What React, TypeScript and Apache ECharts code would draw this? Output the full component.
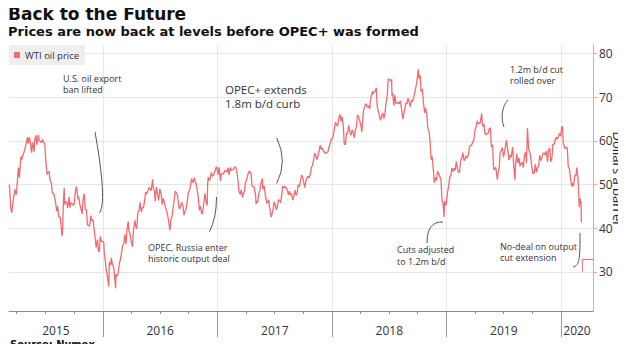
import React, { useEffect, useRef } from "react";
import * as echarts from "echarts";

// WTI front-month price, dollars a barrel
const wti2015: [string, number][] = [
  ["03-09", 50.0], ["03-11", 48.2], ["03-13", 44.8], ["03-17", 43.5], ["03-20", 45.7], ["03-24", 47.5], ["03-27", 48.9], ["03-31", 47.6],
  ["04-02", 49.1], ["04-07", 53.9], ["04-10", 51.6], ["04-15", 56.4], ["04-17", 55.7], ["04-21", 56.6], ["04-24", 57.2], ["04-29", 58.6],
  ["05-01", 59.2], ["05-06", 60.9], ["05-08", 59.4], ["05-12", 60.8], ["05-15", 59.7], ["05-19", 57.3], ["05-22", 59.7], ["05-27", 57.5],
  ["05-29", 60.3], ["06-02", 61.3], ["06-05", 59.1], ["06-10", 61.4], ["06-12", 60.0], ["06-17", 59.9], ["06-19", 59.6], ["06-24", 60.3],
  ["06-26", 59.6], ["06-30", 59.5], ["07-02", 56.9], ["07-07", 52.3], ["07-10", 52.7], ["07-14", 53.0], ["07-17", 50.9], ["07-21", 50.4],
  ["07-24", 48.1], ["07-28", 48.0], ["07-31", 47.1], ["08-04", 45.7], ["08-07", 43.9], ["08-10", 45.0], ["08-14", 42.5], ["08-18", 42.6],
  ["08-21", 40.5], ["08-24", 38.2], ["08-26", 39.3], ["08-28", 45.2], ["08-31", 49.2], ["09-01", 45.4], ["09-04", 46.1], ["09-08", 45.9],
  ["09-11", 44.6], ["09-16", 47.2], ["09-18", 44.7], ["09-22", 45.8], ["09-25", 45.7], ["09-29", 45.2], ["10-02", 45.5], ["10-06", 48.5],
  ["10-09", 49.6], ["10-14", 46.6], ["10-16", 47.3], ["10-20", 45.3], ["10-23", 44.6], ["10-27", 43.2], ["10-30", 46.6], ["11-03", 47.9],
  ["11-06", 44.3], ["11-10", 44.2], ["11-13", 40.7], ["11-17", 40.7], ["11-20", 40.4], ["11-24", 42.9], ["11-27", 41.7], ["12-01", 41.9],
  ["12-04", 40.0], ["12-08", 37.5], ["12-11", 35.6], ["12-15", 37.4], ["12-18", 34.7], ["12-21", 34.7], ["12-24", 38.1], ["12-28", 36.8],
  ["12-31", 37.0],
];
const wti2016: [string, number][] = [
  ["01-04", 36.8], ["01-06", 34.0], ["01-08", 33.2], ["01-12", 30.4], ["01-15", 29.4], ["01-20", 26.6], ["01-22", 32.2], ["01-26", 31.5],
  ["01-28", 33.2], ["02-01", 31.6], ["02-05", 30.9], ["02-09", 27.9], ["02-11", 26.2], ["02-12", 29.4], ["02-16", 29.0], ["02-19", 29.6],
  ["02-23", 31.9], ["02-26", 32.8], ["03-01", 34.4], ["03-04", 35.9], ["03-08", 36.5], ["03-11", 38.5], ["03-15", 36.3], ["03-18", 39.4],
  ["03-22", 41.5], ["03-24", 39.5], ["03-29", 38.3], ["04-01", 36.8], ["04-05", 35.7], ["04-08", 39.7], ["04-13", 41.8], ["04-15", 40.4],
  ["04-18", 39.8], ["04-22", 43.7], ["04-26", 44.0], ["04-29", 45.9], ["05-03", 43.7], ["05-06", 44.7], ["05-10", 44.7], ["05-13", 46.2],
  ["05-17", 48.3], ["05-20", 47.8], ["05-24", 48.6], ["05-27", 49.3], ["05-31", 49.1], ["06-03", 48.6], ["06-08", 51.2], ["06-10", 49.1],
  ["06-14", 48.5], ["06-16", 46.2], ["06-20", 49.4], ["06-24", 47.6], ["06-27", 46.3], ["07-01", 49.0], ["07-06", 47.4], ["07-08", 45.4],
  ["07-12", 46.8], ["07-15", 46.0], ["07-19", 44.7], ["07-22", 44.2], ["07-26", 42.9], ["07-29", 41.6], ["08-02", 39.5], ["08-05", 41.8],
  ["08-09", 42.8], ["08-12", 44.5], ["08-16", 46.6], ["08-19", 48.5], ["08-23", 48.1], ["08-26", 47.6], ["08-31", 44.7], ["09-02", 44.4],
  ["09-07", 45.5], ["09-09", 45.9], ["09-13", 44.9], ["09-16", 43.0], ["09-20", 43.9], ["09-23", 44.5], ["09-26", 45.9], ["09-28", 47.1],
  ["09-30", 48.2], ["10-04", 48.7], ["10-07", 49.8], ["10-10", 51.4], ["10-14", 50.4], ["10-19", 51.6], ["10-21", 50.9], ["10-25", 50.0],
  ["10-28", 48.7], ["11-01", 46.7], ["11-04", 44.1], ["11-08", 45.0], ["11-11", 43.4], ["11-14", 43.3], ["11-18", 45.7], ["11-22", 48.0],
  ["11-25", 46.1], ["11-29", 45.2], ["11-30", 49.4], ["12-02", 51.7], ["12-06", 50.9], ["12-09", 51.5], ["12-12", 52.8], ["12-16", 51.9],
  ["12-20", 52.2], ["12-23", 53.0], ["12-28", 54.1], ["12-30", 53.7],
];
const wti2017: [string, number][] = [
  ["01-03", 52.3], ["01-06", 54.0], ["01-10", 50.8], ["01-13", 52.4], ["01-17", 52.5], ["01-20", 52.4], ["01-24", 53.2], ["01-27", 53.2],
  ["01-31", 52.8], ["02-03", 53.8], ["02-07", 52.2], ["02-10", 53.9], ["02-14", 53.2], ["02-17", 53.4], ["02-22", 53.6], ["02-24", 54.0],
  ["02-28", 54.0], ["03-03", 53.3], ["03-08", 50.3], ["03-10", 48.5], ["03-14", 47.7], ["03-17", 48.8], ["03-22", 47.0], ["03-24", 48.0],
  ["03-28", 48.4], ["03-31", 50.6], ["04-04", 51.0], ["04-07", 52.2], ["04-12", 53.1], ["04-13", 53.2], ["04-18", 52.4], ["04-21", 49.6],
  ["04-25", 49.6], ["04-28", 49.3], ["05-02", 47.7], ["05-04", 45.5], ["05-05", 46.2], ["05-09", 45.9], ["05-12", 47.8], ["05-16", 48.7],
  ["05-19", 50.3], ["05-24", 51.4], ["05-25", 48.9], ["05-30", 49.7], ["06-02", 47.7], ["06-07", 45.7], ["06-09", 45.8], ["06-13", 46.5],
  ["06-16", 44.7], ["06-21", 42.5], ["06-23", 43.0], ["06-27", 44.2], ["06-30", 46.0], ["07-05", 45.1], ["07-07", 44.2], ["07-11", 45.0],
  ["07-14", 46.5], ["07-18", 46.4], ["07-21", 45.8], ["07-25", 47.9], ["07-28", 49.7], ["08-01", 49.2], ["08-04", 49.6], ["08-08", 49.2],
  ["08-11", 48.8], ["08-15", 47.6], ["08-18", 48.5], ["08-22", 47.6], ["08-25", 47.9], ["08-29", 46.4], ["09-01", 47.3], ["09-05", 48.7],
  ["09-08", 47.5], ["09-12", 48.2], ["09-15", 49.9], ["09-19", 49.5], ["09-22", 50.7], ["09-26", 52.2], ["09-29", 51.7], ["10-03", 50.4],
  ["10-06", 49.3], ["10-10", 50.9], ["10-13", 51.5], ["10-17", 51.9], ["10-20", 51.5], ["10-24", 52.5], ["10-27", 53.9], ["10-31", 54.4],
  ["11-03", 55.6], ["11-07", 57.2], ["11-10", 56.7], ["11-14", 55.7], ["11-17", 56.6], ["11-21", 57.8], ["11-24", 59.0], ["11-28", 58.0],
  ["12-01", 58.4], ["12-05", 57.6], ["12-08", 57.4], ["12-12", 57.1], ["12-15", 57.3], ["12-19", 57.5], ["12-22", 58.5], ["12-27", 59.6],
  ["12-29", 60.4],
];
const wti2018: [string, number][] = [
  ["01-02", 60.4], ["01-05", 61.4], ["01-09", 63.0], ["01-12", 64.3], ["01-16", 63.7], ["01-19", 63.4], ["01-24", 65.6], ["01-26", 66.1],
  ["01-30", 64.5], ["02-02", 65.5], ["02-06", 63.4], ["02-09", 59.2], ["02-13", 59.2], ["02-16", 61.7], ["02-20", 61.9], ["02-23", 63.6],
  ["02-27", 62.0], ["03-02", 61.3], ["03-06", 62.6], ["03-09", 62.0], ["03-13", 60.7], ["03-16", 62.3], ["03-20", 63.4], ["03-23", 65.9],
  ["03-27", 65.6], ["03-29", 64.9], ["04-03", 63.5], ["04-06", 62.1], ["04-11", 66.8], ["04-13", 67.4], ["04-18", 68.5], ["04-20", 68.4],
  ["04-24", 67.7], ["04-27", 68.1], ["05-01", 67.3], ["05-04", 69.7], ["05-10", 71.4], ["05-11", 70.7], ["05-15", 71.3], ["05-18", 71.3],
  ["05-22", 72.2], ["05-25", 67.9], ["05-29", 66.7], ["06-01", 65.8], ["06-05", 64.7], ["06-08", 65.7], ["06-12", 66.4], ["06-15", 65.1],
  ["06-18", 65.9], ["06-22", 68.6], ["06-26", 70.5], ["06-29", 74.2], ["07-03", 74.1], ["07-06", 73.8], ["07-10", 74.1], ["07-11", 70.4],
  ["07-13", 71.0], ["07-17", 68.1], ["07-20", 70.5], ["07-24", 68.5], ["07-27", 68.7], ["07-31", 68.8], ["08-03", 68.5], ["08-07", 69.2],
  ["08-10", 67.6], ["08-15", 65.0], ["08-17", 65.9], ["08-21", 67.4], ["08-24", 68.7], ["08-28", 68.5], ["08-31", 69.8], ["09-05", 68.7],
  ["09-07", 67.8], ["09-11", 69.3], ["09-14", 69.0], ["09-18", 69.9], ["09-21", 70.8], ["09-25", 72.3], ["09-28", 73.3], ["10-03", 76.4],
  ["10-05", 74.3], ["10-09", 75.0], ["10-12", 71.3], ["10-16", 71.9], ["10-19", 69.1], ["10-23", 66.4], ["10-26", 67.6], ["10-30", 66.2],
  ["11-02", 63.1], ["11-06", 62.2], ["11-09", 60.2], ["11-13", 55.7], ["11-16", 56.5], ["11-20", 53.4], ["11-23", 50.4], ["11-27", 51.6],
  ["11-30", 50.9], ["12-03", 53.0], ["12-07", 52.6], ["12-11", 51.7], ["12-14", 51.2], ["12-18", 46.2], ["12-21", 45.6], ["12-24", 42.5],
  ["12-26", 46.2], ["12-28", 45.3], ["12-31", 45.4],
];
const wti2019: [string, number][] = [
  ["01-04", 48.0], ["01-08", 49.8], ["01-11", 51.6], ["01-15", 52.1], ["01-18", 53.8], ["01-22", 53.0], ["01-25", 53.7], ["01-29", 53.3],
  ["02-01", 55.3], ["02-05", 53.7], ["02-08", 52.7], ["02-12", 53.1], ["02-15", 55.6], ["02-19", 56.1], ["02-22", 57.3], ["02-26", 55.5],
  ["03-01", 55.8], ["03-05", 56.6], ["03-08", 56.1], ["03-12", 56.9], ["03-15", 58.5], ["03-19", 59.0], ["03-22", 59.0], ["03-26", 59.9],
  ["03-29", 60.1], ["04-02", 62.6], ["04-05", 63.1], ["04-09", 64.6], ["04-12", 63.9], ["04-16", 64.1], ["04-18", 64.0], ["04-23", 66.3],
  ["04-26", 63.3], ["04-30", 63.9], ["05-03", 61.9], ["05-07", 61.4], ["05-10", 61.7], ["05-14", 61.8], ["05-17", 62.8], ["05-21", 63.0],
  ["05-24", 58.6], ["05-28", 59.1], ["05-31", 53.5], ["06-04", 53.5], ["06-07", 54.0], ["06-12", 51.1], ["06-14", 52.5], ["06-18", 53.9],
  ["06-21", 57.4], ["06-25", 57.8], ["06-28", 58.5], ["07-02", 56.3], ["07-05", 57.5], ["07-11", 60.2], ["07-12", 60.2], ["07-16", 57.6],
  ["07-19", 55.6], ["07-23", 56.8], ["07-26", 56.2], ["07-31", 58.6], ["08-02", 55.7], ["08-07", 51.1], ["08-09", 54.5], ["08-13", 57.1],
  ["08-16", 54.9], ["08-20", 56.1], ["08-23", 54.2], ["08-27", 54.9], ["08-30", 55.1], ["09-03", 53.9], ["09-06", 56.5], ["09-10", 57.4],
  ["09-13", 54.9], ["09-16", 62.9], ["09-20", 58.1], ["09-24", 57.3], ["09-27", 55.9], ["10-01", 53.6], ["10-03", 52.5], ["10-08", 52.6],
  ["10-11", 54.7], ["10-15", 52.8], ["10-18", 53.8], ["10-22", 54.2], ["10-25", 56.7], ["10-29", 55.5], ["11-01", 56.2], ["11-05", 57.2],
  ["11-08", 57.2], ["11-12", 56.8], ["11-15", 57.7], ["11-19", 55.2], ["11-22", 57.8], ["11-26", 58.4], ["11-29", 55.2], ["12-03", 56.1],
  ["12-06", 59.2], ["12-10", 59.2], ["12-13", 60.1], ["12-17", 60.9], ["12-20", 60.4], ["12-24", 61.1], ["12-27", 61.7], ["12-31", 61.1],
];
const wti2020: [string, number][] = [
  ["01-03", 63.1], ["01-06", 63.3], ["01-08", 59.6], ["01-10", 59.0], ["01-14", 58.2], ["01-17", 58.5], ["01-21", 58.4], ["01-24", 54.2],
  ["01-28", 53.5], ["01-31", 51.6], ["02-04", 49.6], ["02-07", 50.3], ["02-10", 49.6], ["02-14", 52.1], ["02-18", 52.1], ["02-20", 53.9],
  ["02-24", 51.4], ["02-26", 48.7], ["02-28", 44.8], ["03-02", 46.8], ["03-04", 46.8], ["03-05", 45.9], ["03-06", 41.3],
];
// last-trade marker (Mar 9 2020): low of the bar and latest price
const lastTradeDate = "2020-03-09";
const lastTradeLow = 30.0;
const lastTradePrice = 32.8;

const axisStart = "2015-03-08";
const axisEnd = "2020-04-12";
const yearStarts = ["2016-01-01", "2017-01-01", "2018-01-01", "2019-01-01", "2020-01-01"];
const quarterStarts = [
  "2015-04-01", "2015-07-01", "2015-10-01", "2016-04-01", "2016-07-01", "2016-10-01",
  "2017-04-01", "2017-07-01", "2017-10-01", "2018-04-01", "2018-07-01", "2018-10-01",
  "2019-04-01", "2019-07-01", "2019-10-01",
];
const yearLabels = ["2015", "2016", "2017", "2018", "2019", "2020"];
const yTicks = [30, 40, 50, 60, 70, 80];

const ts = (s: string) => Date.UTC(+s.slice(0, 4), +s.slice(5, 7) - 1, +s.slice(8, 10));

const withYear = (y: string, arr: [string, number][]) => arr.map(([d, v]) => [ts(`${y}-${d}`), v]);
const wtiSeries = [
  ...withYear("2015", wti2015), ...withYear("2016", wti2016), ...withYear("2017", wti2017),
  ...withYear("2018", wti2018), ...withYear("2019", wti2019), ...withYear("2020", wti2020),
];

// label positions: centre of the visible part of each year
const yearLabelValues = yearLabels.map((y) => {
  const a = Math.max(ts(`${y}-01-01`), ts(axisStart));
  const b = Math.min(ts(`${Number(y) + 1}-01-01`), ts(axisEnd));
  return (a + b) / 2;
});

const FONT = "'Open Sans', 'Noto Sans', sans-serif";
const BOLD = "'DejaVu Sans', sans-serif";
const LINE = "#f26a70";
const ANN = "#333333";

export default function App() {
  const ref = useRef<HTMLDivElement>(null);
  useEffect(() => {
    if (!ref.current) return;
    const chart = echarts.init(ref.current, undefined, { renderer: "svg" });
    const annText = (text: string, x: number, y: number, lh: number, size: number) => ({
      type: "text",
      x,
      y,
      style: { text, fill: ANN, font: `${size}px ${FONT}`, lineHeight: lh, textVerticalAlign: "middle", textAlign: "left" },
      z: 10,
    });
    const leader = (shape: any) => ({
      type: "bezierCurve",
      shape,
      style: { stroke: "#555", lineWidth: 1, fill: "none" },
      z: 10,
    });
    const xMin = ts(axisStart);
    const xMax = ts(axisEnd);
    chart.setOption({
      animation: false,
      textStyle: { fontFamily: FONT },
      title: [
        {
          text: "Back to the Future",
          left: 8,
          top: 5,
          padding: 0,
          textStyle: { fontFamily: BOLD, fontWeight: "bold", fontSize: 17, color: "#111" },
        },
        {
          text: "Prices are now back at levels before OPEC+ was formed",
          left: 8,
          top: 25,
          padding: 0,
          textStyle: { fontFamily: BOLD, fontWeight: "bold", fontSize: 13, color: "#111" },
        },
      ],
      legend: {
        data: ["WTI oil price"],
        left: 9,
        top: 45,
        padding: [5, 6, 5, 5],
        backgroundColor: "#eeeeee",
        itemWidth: 6,
        itemHeight: 6,
        itemGap: 4,
        icon: "rect",
        textStyle: { fontFamily: FONT, fontSize: 9.5, color: "#333" },
      },
      grid: { left: 9, right: 33, top: 45, bottom: 41, containLabel: false, outerBoundsMode: "none" },
      xAxis: [
        {
          type: "value",
          min: xMin,
          max: xMax,
          axisLine: { show: true, lineStyle: { color: "#8a8a8a", width: 1 } },
          axisTick: { show: true, length: 3, customValues: quarterStarts.map(ts), lineStyle: { color: "#8a8a8a" } },
          axisLabel: {
            show: true,
            customValues: yearLabelValues,
            formatter: (v: number) => String(new Date(v).getUTCFullYear()),
            margin: 13,
            fontSize: 12,
            color: "#333",
            fontFamily: FONT,
          },
          splitLine: { show: false },
        },
        {
          type: "value",
          min: xMin,
          max: xMax,
          position: "bottom",
          axisLine: { show: false },
          axisTick: { show: true, length: 26, customValues: yearStarts.map(ts), lineStyle: { color: "#9a9a9a" } },
          axisLabel: { show: false },
          splitLine: { show: true, lineStyle: { color: "#e6e6e6", width: 1 } },
        },
      ],
      yAxis: {
        type: "value",
        position: "right",
        min: 21,
        max: 82,
        axisLine: { show: true, lineStyle: { color: "#f4a0a3", width: 1 } },
        axisTick: { show: true, length: 4, customValues: yTicks, lineStyle: { color: "#f4a0a3" } },
        axisLabel: { customValues: yTicks, margin: 6, fontSize: 12, color: "#333", fontFamily: FONT },
        splitLine: { show: true, lineStyle: { color: "#e6e6e6", width: 1 } },
      },
      series: [
        {
          name: "WTI oil price",
          type: "line",
          xAxisIndex: 0,
          data: wtiSeries,
          showSymbol: false,
          symbol: "none",
          lineStyle: { color: LINE, width: 1.3 },
          itemStyle: { color: LINE },
        },
        {
          name: "last",
          type: "line",
          xAxisIndex: 0,
          data: [
            [ts(lastTradeDate), lastTradeLow],
            [ts(lastTradeDate), lastTradePrice],
            [xMax, lastTradePrice],
          ],
          showSymbol: false,
          symbol: "none",
          lineStyle: { color: LINE, width: 1 },
        },
      ],
      graphic: [
        {
          type: "text",
          x: 618,
          y: 178,
          rotation: -Math.PI / 2,
          style: { text: "Dollars a barrel", fill: "#222", font: `13px ${FONT}`, textAlign: "center", textVerticalAlign: "middle" },
        },
        {
          type: "text",
          x: 10,
          y: 344,
          style: { text: "Source: Nymex", fill: "#111", font: `bold 10px ${BOLD}`, textAlign: "left", textVerticalAlign: "middle" },
        },
        annText("U.S. oil export\nban lifted", 63, 83.5, 11, 9),
        leader({ x1: 95, y1: 132, cpx1: 101, cpy1: 165, cpx2: 106, cpy2: 205, x2: 99.5, y2: 213 }),
        annText("OPEC, Russia enter\nhistoric output deal", 148, 253, 11, 9),
        leader({ x1: 209.5, y1: 231.5, cpx1: 216.5, cpy1: 218, x2: 216.5, y2: 197 }),
        annText("OPEC+ extends\n1.8m b/d curb", 225, 96.5, 14, 11.5),
        leader({ x1: 276.7, y1: 138, cpx1: 288, cpy1: 161, x2: 276.7, y2: 183.5 }),
        annText("1.2m b/d cut\nrolled over", 510, 75, 11, 9),
        leader({ x1: 508, y1: 100, cpx1: 502, cpy1: 106, cpx2: 500.5, cpy2: 118, x2: 504, y2: 127 }),
        annText("Cuts adjusted\nto 1.2m b/d", 397, 255.5, 11.5, 9),
        leader({ x1: 443, y1: 222, cpx1: 427, cpy1: 221, x2: 427, y2: 243 }),
        annText("No-deal on output\ncut extension", 500, 251.7, 11, 9),
        leader({ x1: 580, y1: 233, cpx1: 580, cpy1: 256, cpx2: 580, cpy2: 266, x2: 573, y2: 267 }),
      ],
    });
    return () => chart.dispose();
  }, []);
  return <div ref={ref} style={{ width: 626, height: 352, margin: -8 }} />;
}
